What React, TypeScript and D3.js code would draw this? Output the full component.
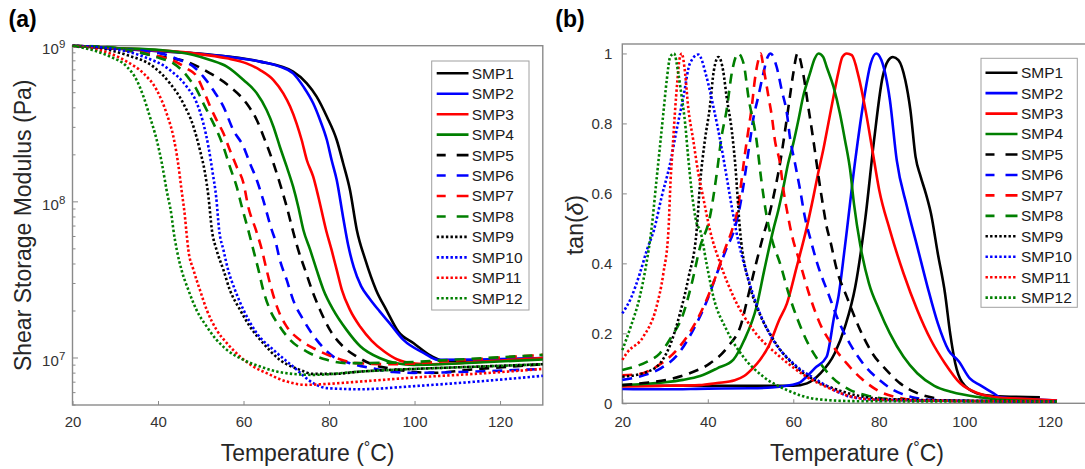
import React, { useEffect, useRef } from 'react';
import * as d3 from 'd3';

// DMA results: (a) shear storage modulus, (b) tan(delta), for SMP1..SMP12

type Pt = [number, number];

const seriesNames = ['SMP1', 'SMP2', 'SMP3', 'SMP4', 'SMP5', 'SMP6', 'SMP7', 'SMP8', 'SMP9', 'SMP10', 'SMP11', 'SMP12'];
const seriesColors = ['#000000', '#0000ff', '#ff0000', '#007f00', '#000000', '#0000ff', '#ff0000', '#007f00', '#000000', '#0000ff', '#ff0000', '#007f00'];
const seriesStyles = ['solid', 'solid', 'solid', 'solid', 'dash', 'dash', 'dash', 'dash', 'dot', 'dot', 'dot', 'dot'];

const xTicks = [20, 40, 60, 80, 100, 120];
const modulusTicks = [1e7, 1e8, 1e9];
const modulusExponents = ['7', '8', '9'];
const tanTicks = [0, 0.2, 0.4, 0.6, 0.8, 1];
const tanTickLabels = ['0', '0.2', '0.4', '0.6', '0.8', '1'];

// (a) [temperature, log10 G' (Pa)]
const smp1G: Pt[] = [[20, 9], [35.3, 8.972], [51.5, 8.945], [63.9, 8.898], [71.6, 8.834], [74.8, 8.759], [77.1, 8.674], [79.5, 8.545], [81.8, 8.396], [83.3, 8.247], [84.9, 8.076], [86.5, 7.82], [88.5, 7.628], [91.0, 7.436], [93.4, 7.308], [96.2, 7.169], [99.8, 7.094], [103.9, 7.013], [107.1, 6.981], [115, 6.985], [130, 7.0]];
const smp2G: Pt[] = [[20, 9], [35, 8.975], [56.1, 8.93], [63.9, 8.898], [68.5, 8.866], [71.6, 8.823], [74.0, 8.738], [76.3, 8.631], [77.9, 8.524], [79.5, 8.396], [80.6, 8.268], [81.8, 8.14], [83.3, 7.9], [84.5, 7.72], [85.8, 7.58], [87.5, 7.46], [89.5, 7.38], [91.8, 7.3], [94.2, 7.222], [97.4, 7.116], [102.3, 7.03], [105.5, 6.988], [115, 6.99], [130, 7.0]];
const smp3G: Pt[] = [[20, 9], [30, 8.985], [48.3, 8.951], [56.1, 8.919], [60.7, 8.887], [63.9, 8.844], [67.0, 8.78], [69.3, 8.695], [70.9, 8.61], [72.4, 8.503], [73.6, 8.396], [74.8, 8.268], [76.3, 8.161], [77.5, 8.033], [79.3, 7.82], [80.6, 7.692], [81.8, 7.564], [83.0, 7.436], [84.9, 7.308], [87.3, 7.2], [90, 7.11], [93, 7.04], [96, 6.99], [100, 6.965], [104, 6.96], [115, 6.975], [130, 7.0]];
const smp4G: Pt[] = [[20, 9], [30, 8.985], [40.5, 8.972], [48.3, 8.94], [52.2, 8.908], [56.1, 8.866], [60.0, 8.78], [63.1, 8.695], [65.4, 8.588], [67.0, 8.481], [68.5, 8.353], [70.1, 8.225], [71.6, 8.097], [72.8, 7.969], [74.0, 7.82], [75.6, 7.692], [77.1, 7.564], [78.7, 7.436], [81.0, 7.308], [84.1, 7.18], [87.3, 7.075], [91.8, 7.0], [95.8, 6.966], [99.8, 6.956], [110, 6.965], [130, 6.99]];
const smp5G: Pt[] = [[20, 9], [30, 8.98], [40.5, 8.93], [46.7, 8.898], [52.2, 8.823], [56.8, 8.738], [60.7, 8.631], [63.1, 8.524], [65.0, 8.396], [67.0, 8.247], [68.5, 8.119], [70.1, 7.969], [71.5, 7.82], [72.8, 7.692], [74.4, 7.564], [76.0, 7.436], [77.9, 7.308], [80.2, 7.18], [83.3, 7.073], [86.5, 7.009], [90, 6.96], [95, 6.93], [100, 6.91], [104, 6.905], [115, 6.93], [130, 6.96]];
const smp6G: Pt[] = [[20, 9], [30, 8.98], [40.5, 8.951], [45.1, 8.908], [48.3, 8.866], [50.6, 8.802], [52.9, 8.716], [55.3, 8.61], [57.6, 8.46], [60.0, 8.353], [61.5, 8.247], [63.1, 8.14], [64.6, 8.012], [66.6, 7.82], [67.4, 7.756], [68.5, 7.628], [70.1, 7.5], [71.6, 7.372], [74.0, 7.244], [77.1, 7.116], [81.0, 7.009], [84.9, 6.967], [90, 6.935], [95, 6.91], [100, 6.905], [110, 6.91], [130, 6.93]];
const smp7G: Pt[] = [[20, 9], [28.8, 8.985], [36.6, 8.955], [40.5, 8.93], [43.6, 8.904], [46.7, 8.855], [49.1, 8.802], [50.6, 8.716], [52.2, 8.61], [53.7, 8.524], [55.3, 8.439], [56.8, 8.332], [58.4, 8.225], [60.0, 8.119], [61.1, 7.969], [62.9, 7.82], [64.3, 7.692], [65.4, 7.564], [66.6, 7.436], [68.1, 7.308], [70.1, 7.201], [73.2, 7.116], [77.1, 7.052], [81.8, 6.999], [86.5, 6.967], [95, 6.96], [110, 6.985], [130, 7.02]];
const smp8G: Pt[] = [[20, 9], [28.8, 8.99], [36.6, 8.951], [40.5, 8.919], [43.6, 8.887], [45.9, 8.834], [47.5, 8.78], [49.1, 8.716], [50.6, 8.631], [52.2, 8.545], [53.7, 8.46], [55.3, 8.353], [56.8, 8.225], [58.4, 8.097], [59.6, 7.969], [61.1, 7.82], [62.3, 7.692], [63.5, 7.564], [64.6, 7.436], [66.2, 7.308], [68.5, 7.201], [70.9, 7.116], [74.8, 7.041], [79.5, 6.988], [84.1, 6.967], [95, 6.97], [110, 6.99], [130, 7.02]];
const smp9G: Pt[] = [[20, 9], [24.9, 8.99], [32.7, 8.94], [38.9, 8.866], [42.8, 8.759], [45.9, 8.631], [48.3, 8.481], [49.8, 8.332], [51.0, 8.183], [51.8, 8.033], [52.6, 7.82], [53.7, 7.692], [55.3, 7.564], [56.8, 7.436], [59.2, 7.308], [61.5, 7.201], [64.6, 7.095], [68.5, 6.988], [73.2, 6.924], [76.3, 6.898], [81.0, 6.898], [87.3, 6.913], [100, 6.93], [115, 6.945], [130, 6.96]];
const smp10G: Pt[] = [[20, 9], [28.8, 8.983], [36.6, 8.93], [42.8, 8.844], [46.7, 8.738], [49.1, 8.631], [50.6, 8.503], [51.8, 8.353], [52.8, 8.183], [53.6, 8.033], [54.3, 7.82], [55.3, 7.692], [56.4, 7.564], [58.0, 7.436], [60.0, 7.308], [63.1, 7.159], [67.0, 7.052], [71.6, 6.945], [76.3, 6.839], [79.5, 6.807], [87.3, 6.8], [100, 6.82], [115, 6.85], [130, 6.886]];
const smp11G: Pt[] = [[20, 9], [24.9, 8.98], [28.8, 8.95], [32.7, 8.898], [36.6, 8.823], [39.7, 8.716], [42.0, 8.567], [43.6, 8.417], [44.7, 8.247], [45.5, 8.076], [46.3, 7.905], [46.6, 7.82], [47.1, 7.692], [48.3, 7.564], [49.8, 7.436], [51.4, 7.308], [53.7, 7.18], [56.1, 7.095], [59.2, 7.009], [62.3, 6.945], [65.4, 6.903], [70.1, 6.849], [74.8, 6.828], [79.5, 6.834], [87.3, 6.849], [100, 6.875], [115, 6.9], [130, 6.93]];
const smp12G: Pt[] = [[20, 9], [24.9, 8.97], [28.8, 8.93], [32.7, 8.866], [35.0, 8.78], [36.6, 8.674], [38.1, 8.545], [39.7, 8.396], [40.9, 8.247], [42.0, 8.076], [43.2, 7.905], [43.6, 7.82], [44.4, 7.692], [45.5, 7.564], [47.1, 7.436], [49.0, 7.308], [51.4, 7.201], [53.7, 7.116], [56.1, 7.052], [60.0, 6.988], [63.9, 6.945], [67.8, 6.913], [71.6, 6.898], [76.3, 6.892], [87.3, 6.913], [100, 6.93], [115, 6.945], [130, 6.96]];

// (b) [temperature, tan(delta)]
const smp1D: Pt[] = [[20, 0.05], [40, 0.05], [60, 0.05], [63.2, 0.057], [66.4, 0.086], [69.7, 0.143], [72.1, 0.219], [74.5, 0.333], [76.9, 0.533], [78.9, 0.752], [80.9, 0.933], [82.2, 0.98], [83.3, 0.99], [84.6, 0.981], [86.2, 0.924], [87.4, 0.838], [88.6, 0.705], [89.8, 0.648], [91.0, 0.6], [92.2, 0.543], [93.8, 0.429], [95.5, 0.314], [96.7, 0.2], [97.9, 0.114], [99.5, 0.06], [102.9, 0.029], [106.8, 0.021], [117.7, 0.017]];
const smp2D: Pt[] = [[20, 0.041], [30, 0.04], [40, 0.042], [50, 0.043], [55, 0.045], [58.4, 0.05], [61.6, 0.06], [63.1, 0.076], [65, 0.1], [67.8, 0.133], [69.6, 0.25], [70.5, 0.3], [72.1, 0.45], [74.5, 0.695], [76.5, 0.867], [78.1, 0.971], [79.4, 1.0], [80.6, 0.981], [82.6, 0.867], [84.2, 0.695], [86.6, 0.562], [89, 0.448], [91.4, 0.333], [93.8, 0.229], [96.3, 0.152], [98.7, 0.12], [101.3, 0.071], [103.7, 0.052], [106.8, 0.029], [108.4, 0.017], [114.8, 0.012], [121.7, 0.008]];
const smp3D: Pt[] = [[20, 0.048], [30, 0.05], [38, 0.052], [42.2, 0.058], [46.3, 0.066], [48.5, 0.078], [50.5, 0.1], [52.2, 0.124], [54.3, 0.165], [56.7, 0.238], [58.5, 0.285], [60.8, 0.39], [63.2, 0.505], [64.7, 0.59], [65.8, 0.657], [67.0, 0.724], [68.2, 0.8], [69.4, 0.876], [70.5, 0.943], [71.5, 0.99], [72.5, 1.0], [73.7, 0.995], [75.3, 0.933], [76.9, 0.838], [78.5, 0.724], [80.1, 0.61], [82.6, 0.495], [85.8, 0.371], [89, 0.267], [92.2, 0.181], [95.5, 0.114], [99, 0.058], [102.9, 0.03], [106.8, 0.018], [114.8, 0.012], [121.7, 0.008]];
const smp4D: Pt[] = [[20, 0.052], [25, 0.055], [30, 0.06], [34.2, 0.067], [38.2, 0.078], [42.2, 0.1], [46, 0.125], [48.5, 0.18], [51.4, 0.276], [53.2, 0.38], [55.3, 0.495], [56.5, 0.552], [57.7, 0.619], [58.8, 0.686], [60.0, 0.743], [61.2, 0.81], [62.3, 0.876], [63.9, 0.943], [65.0, 0.985], [65.9, 1.0], [67.0, 0.99], [67.8, 0.962], [69.4, 0.905], [70.9, 0.829], [72.1, 0.752], [73.3, 0.667], [74.2, 0.57], [75.7, 0.45], [77.7, 0.343], [80.1, 0.267], [82.6, 0.2], [85.8, 0.133], [89, 0.086], [93, 0.05], [97.1, 0.032], [103.7, 0.017], [108.4, 0.01], [121.7, 0.005]];
const smp5D: Pt[] = [[20, 0.052], [25, 0.058], [30.4, 0.067], [35.8, 0.086], [40.5, 0.114], [44.7, 0.162], [47.9, 0.23], [49.3, 0.3], [51.3, 0.4], [53.0, 0.48], [54.2, 0.53], [55.7, 0.61], [56.9, 0.686], [58.1, 0.781], [59.2, 0.876], [60.0, 0.943], [61.0, 1.0], [62.3, 0.943], [63.5, 0.848], [64.7, 0.752], [65.8, 0.657], [67.0, 0.562], [67.8, 0.505], [68.6, 0.467], [70.2, 0.381], [72.5, 0.305], [75.3, 0.219], [78.5, 0.143], [81.8, 0.095], [85, 0.057], [89, 0.029], [93.5, 0.014]];
const smp6D: Pt[] = [[20, 0.067], [25, 0.08], [29, 0.1], [33, 0.14], [36.6, 0.21], [39.7, 0.29], [42.1, 0.37], [44.3, 0.44], [46.3, 0.5], [47.5, 0.562], [48.3, 0.619], [49.1, 0.686], [49.9, 0.752], [50.6, 0.81], [51.8, 0.876], [53.0, 0.943], [54.0, 0.99], [54.7, 1.0], [56.1, 0.962], [57.3, 0.895], [58.5, 0.829], [59.2, 0.762], [60.4, 0.686], [61.6, 0.61], [62.7, 0.533], [64.0, 0.47], [65.6, 0.4], [68.3, 0.31], [70.5, 0.238], [73.5, 0.165], [76.9, 0.105], [80.1, 0.067], [83.4, 0.038], [87.4, 0.019], [92.2, 0.01], [100, 0.007], [121.7, 0.005]];
const smp7D: Pt[] = [[20, 0.08], [24, 0.084], [28, 0.105], [32.7, 0.152], [36.6, 0.219], [39.7, 0.295], [42.1, 0.371], [44, 0.44], [45.8, 0.5], [47.1, 0.562], [47.9, 0.638], [48.7, 0.714], [49.5, 0.781], [50.3, 0.848], [51.0, 0.924], [51.8, 0.98], [52.4, 1.0], [53.0, 0.962], [54.2, 0.876], [55.0, 0.819], [55.7, 0.752], [56.9, 0.686], [57.7, 0.61], [58.8, 0.533], [59.5, 0.49], [61.6, 0.4], [63.9, 0.305], [66.2, 0.229], [69.4, 0.162], [72.5, 0.114], [76, 0.07], [80, 0.035], [85, 0.015], [90, 0.008], [121.7, 0.005]];
const smp8D: Pt[] = [[20, 0.095], [23, 0.105], [26, 0.12], [28.8, 0.143], [31.5, 0.19], [34.3, 0.257], [36.2, 0.34], [38.2, 0.447], [40.5, 0.533], [42.1, 0.657], [43.2, 0.76], [44.4, 0.838], [45.7, 0.95], [47.1, 1.0], [48.4, 0.97], [49.5, 0.876], [51.4, 0.752], [52.5, 0.64], [53.8, 0.533], [55.2, 0.46], [56.9, 0.4], [59, 0.31], [61, 0.24], [63.5, 0.17], [66, 0.12], [69, 0.075], [73, 0.04], [78, 0.02], [85, 0.01], [121.7, 0.005]];
const smp9D: Pt[] = [[20, 0.076], [24.9, 0.086], [28.8, 0.114], [31.3, 0.17], [33.5, 0.257], [35.5, 0.36], [37.4, 0.495], [38.2, 0.629], [39.3, 0.75], [40.5, 0.848], [41.4, 0.95], [42.5, 0.99], [43.6, 0.95], [44.4, 0.876], [45.6, 0.781], [46.4, 0.686], [47.5, 0.5], [49.9, 0.333], [52, 0.26], [55.2, 0.185], [61, 0.1], [66, 0.06], [70, 0.04], [75, 0.022], [82, 0.012], [121.7, 0.005]];
const smp10D: Pt[] = [[20, 0.257], [22, 0.3], [24.1, 0.371], [25.8, 0.44], [27.4, 0.495], [29.2, 0.59], [31.2, 0.686], [32.7, 0.781], [34.3, 0.876], [35.8, 0.971], [37.8, 0.997], [39.7, 0.933], [41.3, 0.848], [42.9, 0.752], [44.4, 0.648], [45.6, 0.562], [46.6, 0.495], [49.1, 0.371], [52.2, 0.257], [55.3, 0.181], [60.0, 0.114], [65.5, 0.067], [70, 0.035], [73.3, 0.019], [80, 0.01], [121.7, 0.005]];
const smp11D: Pt[] = [[20, 0.124], [21, 0.143], [24.9, 0.19], [28.0, 0.276], [29.6, 0.371], [30.8, 0.495], [31.3, 0.638], [31.8, 0.733], [32.3, 0.829], [32.9, 0.924], [33.4, 0.985], [33.9, 1.0], [34.7, 0.943], [35.4, 0.848], [36.6, 0.752], [37.8, 0.657], [38.9, 0.59], [40.5, 0.495], [42.9, 0.4], [46.0, 0.305], [50.6, 0.21], [56.9, 0.133], [63.1, 0.076], [69.4, 0.038], [73.3, 0.02], [80, 0.01], [121.7, 0.005]];
const smp12D: Pt[] = [[20, 0.152], [22, 0.22], [24, 0.3], [25.5, 0.39], [26.8, 0.495], [28.0, 0.638], [28.8, 0.733], [29.6, 0.829], [30.4, 0.924], [31.2, 0.99], [32.1, 1.0], [33.1, 0.943], [33.9, 0.876], [34.7, 0.8], [35.4, 0.705], [36.2, 0.61], [37.4, 0.514], [38.2, 0.495], [39.7, 0.4], [41.3, 0.305], [44.4, 0.21], [48.3, 0.133], [53.0, 0.076], [58.5, 0.038], [65.5, 0.012], [75, 0.006], [121.7, 0.005]];

const storageSeries = [smp1G, smp2G, smp3G, smp4G, smp5G, smp6G, smp7G, smp8G, smp9G, smp10G, smp11G, smp12G];
const tanSeries = [smp1D, smp2D, smp3D, smp4D, smp5D, smp6D, smp7D, smp8D, smp9D, smp10D, smp11D, smp12D];

const FONT = "'Liberation Sans', Arial, Helvetica, sans-serif";
const frameColor = '#8a8a8a';
const textColor = '#262626';

const dashFor = (s: string) => (s === 'dash' ? '10,7' : s === 'dot' ? '2.4,2.2' : null);
const legendDash = (s: string) => (s === 'dash' ? '9,11,12' : s === 'dot' ? '2.4,2.2' : null);

const App = () => {
  const svgRef = useRef<SVGSVGElement>(null);

  useEffect(() => {
    const svg = d3.select(svgRef.current);
    svg.selectAll('*').remove();
    const defs = svg.append('defs');

    // scales
    const xa = d3.scaleLinear().domain([20, 130]).range([72.5, 542.8]);
    const ya = d3.scaleLog().domain([5e6, 1e9]).range([405, 45.7]);
    const xb = d3.scaleLinear().domain([20, 130]).range([622.3, 1092.5]);
    const yb = d3.scaleLinear().domain([0, 1.027]).range([403.3, 44]);

    const lineA = d3.line<Pt>().x(d => xa(d[0])).y(d => ya(Math.pow(10, d[1]))).curve(d3.curveMonotoneX);
    const lineB = d3.line<Pt>().x(d => xb(d[0])).y(d => yb(d[1])).curve(d3.curveMonotoneX);

    const drawFrame = (l: number, t: number, r: number, b: number) => {
      svg.append('rect')
        .attr('x', l).attr('y', t).attr('width', r - l).attr('height', b - t)
        .attr('fill', 'none').attr('stroke', frameColor).attr('stroke-width', 1.4);
    };

    const drawCurves = (id: string, l: number, t: number, r: number, b: number, data: Pt[][], line: d3.Line<Pt>) => {
      defs.append('clipPath').attr('id', id).append('rect')
        .attr('x', l - 1.2).attr('y', t - 1.2).attr('width', r - l + 2.4).attr('height', b - t + 2.4);
      const g = svg.append('g').attr('clip-path', `url(#${id})`);
      data.forEach((pts, i) => {
        g.append('path')
          .attr('d', line(pts))
          .attr('fill', 'none')
          .attr('stroke', seriesColors[i])
          .attr('stroke-width', 2.6)
          .attr('stroke-linejoin', 'round')
          .attr('stroke-dasharray', dashFor(seriesStyles[i]));
      });
    };

    const drawLegend = (l: number, t: number, r: number, b: number, row0: number, lx1: number, lx2: number, tx: number) => {
      const g = svg.append('g');
      g.append('rect').attr('x', l).attr('y', t).attr('width', r - l).attr('height', b - t)
        .attr('fill', '#ffffff').attr('stroke', '#a0a0a0').attr('stroke-width', 1);
      seriesNames.forEach((name, i) => {
        const y = row0 + i * 20.45;
        g.append('line').attr('x1', lx1).attr('x2', lx2).attr('y1', y).attr('y2', y)
          .attr('stroke', seriesColors[i]).attr('stroke-width', 2.6)
          .attr('stroke-dasharray', legendDash(seriesStyles[i]));
        g.append('text').attr('x', tx).attr('y', y + 5.4)
          .attr('font-family', FONT).attr('font-size', 15.5).attr('fill', '#1a1a1a')
          .text(name);
      });
    };

    const styleAxis = (g: d3.Selection<SVGGElement, unknown, null, undefined>) => {
      g.select('.domain').remove();
      g.selectAll('line').attr('stroke', frameColor).attr('stroke-width', 1);
      g.selectAll('text').attr('font-family', FONT).attr('font-size', 15).attr('fill', '#333333');
    };

    // ---------- panel (a) ----------
    drawFrame(72.5, 45.7, 542.8, 405);

    svg.append('g').attr('transform', 'translate(0,405)')
      .call(d3.axisBottom(xa).tickValues(xTicks).tickSize(-4).tickPadding(11.6).tickFormat(d3.format('d')))
      .call(styleAxis);

    const logTicks = ya.ticks();
    svg.append('g').selectAll('line').data(logTicks).enter().append('line')
      .attr('x1', 72.5)
      .attr('x2', d => (Math.abs(Math.log10(d) - Math.round(Math.log10(d))) < 1e-6 ? 78 : 75.5))
      .attr('y1', d => ya(d)).attr('y2', d => ya(d))
      .attr('stroke', frameColor).attr('stroke-width', 1);

    modulusTicks.forEach((v, i) => {
      const y = ya(v);
      svg.append('text').attr('x', 58.8).attr('y', y + 8.5).attr('text-anchor', 'end')
        .attr('font-family', FONT).attr('font-size', 15).attr('fill', '#333333').text('10');
      svg.append('text').attr('x', 59).attr('y', y + 2.5)
        .attr('font-family', FONT).attr('font-size', 11.5).attr('fill', '#333333').text(modulusExponents[i]);
    });

    drawCurves('clipA', 72.5, 45.7, 542.8, 405, storageSeries, lineA);
    drawLegend(431.7, 61, 529, 310, 73.3, 436.7, 468.5, 471.7);

    svg.append('text').attr('transform', 'translate(31,225.3) rotate(-90)')
      .attr('text-anchor', 'middle').attr('font-family', FONT).attr('font-size', 23).attr('fill', textColor)
      .text('Shear Storage Modulus (Pa)');

    const xlabA = svg.append('text').attr('x', 307.6).attr('y', 461)
      .attr('text-anchor', 'middle').attr('font-family', FONT).attr('font-size', 23).attr('fill', textColor);
    xlabA.append('tspan').text('Temperature (');
    xlabA.append('tspan').attr('font-size', 16).attr('dy', -8).text('°');
    xlabA.append('tspan').attr('dy', 8).text('C)');

    svg.append('text').attr('x', 8.6).attr('y', 27).attr('font-family', FONT)
      .attr('font-size', 23).attr('font-weight', 'bold').attr('fill', '#000').text('(a)');

    // ---------- panel (b) ----------
    drawFrame(622.3, 44, 1092.5, 403.3);

    svg.append('g').attr('transform', 'translate(0,403.3)')
      .call(d3.axisBottom(xb).tickValues(xTicks).tickSize(-4).tickPadding(13.3).tickFormat(d3.format('d')))
      .call(styleAxis);

    svg.append('g').attr('transform', 'translate(622.3,0)')
      .call(d3.axisLeft(yb).tickValues(tanTicks).tickSize(-4.5).tickPadding(10).tickFormat((_d, i) => tanTickLabels[i]))
      .call(styleAxis);

    drawCurves('clipB', 622.3, 44, 1092.5, 403.3, tanSeries, lineB);
    drawLegend(981, 58.3, 1077.3, 307.3, 72.7, 985.5, 1017.5, 1021);

    const ylabB = svg.append('text').attr('transform', 'translate(583,225) rotate(-90)')
      .attr('text-anchor', 'middle').attr('font-family', FONT).attr('font-size', 23).attr('fill', textColor);
    ylabB.append('tspan').text('tan(');
    ylabB.append('tspan').attr('font-style', 'italic').text('δ');
    ylabB.append('tspan').text(')');

    const xlabB = svg.append('text').attr('x', 857).attr('y', 461)
      .attr('text-anchor', 'middle').attr('font-family', FONT).attr('font-size', 23).attr('fill', textColor);
    xlabB.append('tspan').text('Temperature (');
    xlabB.append('tspan').attr('font-size', 16).attr('dy', -8).text('°');
    xlabB.append('tspan').attr('dy', 8).text('C)');

    svg.append('text').attr('x', 555.3).attr('y', 27).attr('font-family', FONT)
      .attr('font-size', 23).attr('font-weight', 'bold').attr('fill', '#000').text('(b)');
  }, []);

  return (
    <svg
      ref={svgRef}
      width="1085"
      height="469"
      style={{ position: 'absolute', left: 0, top: 0, background: '#ffffff' }}
    />
  );
};

export default App;
